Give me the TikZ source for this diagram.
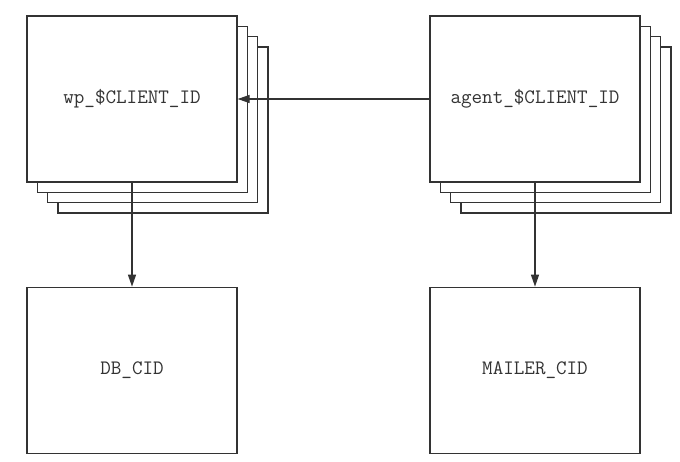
\documentclass[tikz,border=0pt]{standalone}
\usepackage{fontspec}
\usetikzlibrary{positioning,arrows.meta}
\definecolor{ink}{HTML}{333333}

\begin{document}
\begin{tikzpicture}[
  x=1pt, y=-1pt,
  node distance=104pt and 193pt,
  box/.style={draw=ink, line width=1.3pt, fill=white, minimum width=210pt, minimum height=166pt, inner sep=0pt, text=ink, font=\ttfamily\fontsize{20.5}{22}\selectfont},
  arr/.style={-{Triangle[length=12pt, width=8pt]}, line width=1.3pt, draw=ink}
]
\useasboundingbox (0,0) rectangle (680,462);
\coordinate (wpc) at (132,99);
\coordinate (agentc) at (535,99);
% copies stacked behind the front boxes
\foreach \k in {3,2,1} {
  \node[box] (wpcopy\k) at ([shift={(10.3*\k,10.3*\k)}]wpc) {};
  \node[box] (agentcopy\k) at ([shift={(10.3*\k,10.3*\k)}]agentc) {};
}
\node[box] (wp) at (wpc) {wp\_\$CLIENT\_ID};
\node[box] (agent) at (agentc) {agent\_\$CLIENT\_ID};
\node[box, below=of wp] (db) {DB\_CID};
\node[box, below=of agent] (mailer) {MAILER\_CID};
\draw[arr] (agent) -- (wp);
\draw[arr] (wp) -- (db);
\draw[arr] (agent) -- (mailer);
\end{tikzpicture}
\end{document}
